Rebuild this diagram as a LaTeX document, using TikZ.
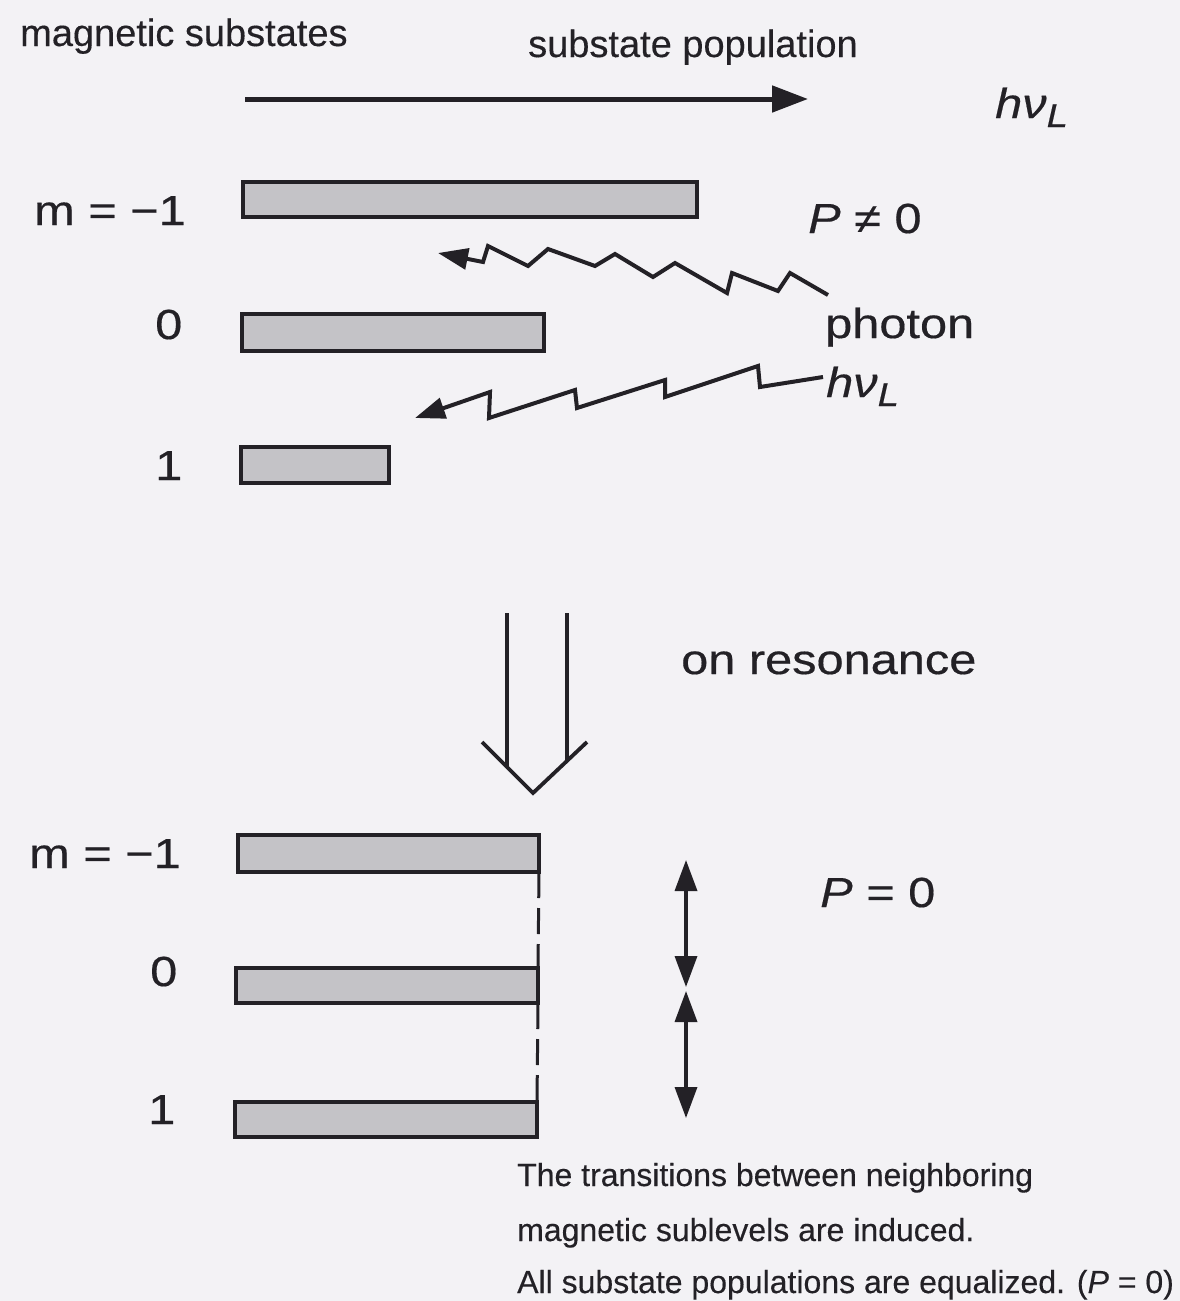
\documentclass[tikz,border=0pt]{standalone}
\usepackage{fontspec}
\setmainfont[FakeBold=0.3]{Liberation Sans}
\newfontfamily\widefont[FakeStretch=1.16,FakeBold=0.4]{Liberation Sans}
\usetikzlibrary{arrows.meta}
\definecolor{ink}{RGB}{35,33,38}
\definecolor{paper}{RGB}{243,242,245}
\definecolor{barfill}{RGB}{196,195,199}
\begin{document}
\begin{tikzpicture}[x=1pt,y=-1pt,
  bar/.style={draw=ink, line width=3.6pt, fill=barfill, inner sep=0pt, outer sep=0pt, anchor=north west},
  big/.style={font=\widefont\fontsize{42}{50}\selectfont, text=ink, inner sep=0pt, anchor=base west},
  small/.style={font=\fontsize{38}{46}\selectfont, text=ink, inner sep=0pt, anchor=base west},
  note/.style={font=\fontsize{32}{38}\selectfont, text=ink, inner sep=0pt, anchor=base west},
  ln/.style={draw=ink, line width=4pt, line join=miter},
  wavetip/.style={-{Triangle[length=30pt,width=21pt]}},
  dbl/.style={{Triangle[length=31pt,width=22pt]}-{Triangle[length=31pt,width=22pt]}}
]
\fill[paper] (0,0) rectangle (1180,1301);
\useasboundingbox (0,0) rectangle (1180,1301);

% top labels
\node[small] (ms) at (20,46) {magnetic substates};
\node[small] (sp) at (528,57) {substate population};
\coordinate (a1) at (245,99);
\coordinate (a2) at (808,99);
\draw[ln, line width=5pt, -{Triangle[length=36pt,width=26pt]}] (a1) -- (a2);
\node[big] (hv1) at (995,118) {\itshape hν\raisebox{-9pt}{\fontsize{33}{33}\selectfont L}};

% top levels
\node[big] (lm1) at (34,225) {m = −1};
\node[big] (l0) at (155,339) {0};
\node[big] (l1) at (155,480) {1};
\node[bar, minimum width=454pt, minimum height=35pt] (t1) at (243,182) {};
\node[bar, minimum width=302pt, minimum height=37pt] (t0) at (242,314) {};
\node[bar, minimum width=148pt, minimum height=36pt] (tp1) at (241,447) {};

\node[big] (pne) at (808,233) {\itshape P\upshape{} ≠ 0};
\node[big] (ph) at (825,338) {photon};
\node[big] (hv2) at (826,397) {\itshape hν\raisebox{-9pt}{\fontsize{33}{33}\selectfont L}};

% photon 1
\coordinate (w1s) at (828,295);
\coordinate (w1e) at (438,253);
\draw[ln, wavetip] (w1s) -- (790,273) -- (778,291) -- (732,273) -- (727,293) -- (675,263)
  -- (653,277) -- (615,254) -- (595,266) -- (548,249) -- (528,266) -- (488,246)
  -- (483,262) -- (w1e);
% photon 2
\coordinate (w2s) at (823,377);
\coordinate (w2e) at (415,418);
\draw[ln, wavetip] (w2s) -- (760,387) -- (758,366) -- (665,397) -- (665,380) -- (577,408)
  -- (575,390) -- (489,418) -- (490,392) -- (w2e);

% hollow arrow
\coordinate (hl1) at (507,613);
\coordinate (hl2) at (507,767);
\coordinate (hr1) at (567,613);
\coordinate (hr2) at (567,761);
\coordinate (cl) at (482,742);
\coordinate (cb) at (533,793);
\coordinate (cr) at (587,742);
\draw[ln, line width=3.2pt] (hl1) -- (hl2);
\draw[ln, line width=3.2pt] (hr1) -- (hr2);
\draw[ln, line width=3.8pt] (cl) -- (cb) -- (cr);

\node[big] (onres) at (681,674) {on resonance};

% bottom levels
\node[big] (blm1) at (29,868) {m = −1};
\node[big] (bl0) at (150,986) {0};
\node[big] (bl1) at (148,1124) {1};
\node[bar, minimum width=301pt, minimum height=37pt] (b1) at (238,835) {};
\node[bar, minimum width=302pt, minimum height=35pt] (b0) at (236,968) {};
\node[bar, minimum width=302pt, minimum height=35pt] (bp1) at (235,1102) {};
\draw[ln, line width=3pt, dash pattern=on 26pt off 10pt] (b1.south east) -- (b0.north east);
\draw[ln, line width=3pt, dash pattern=on 26pt off 10pt] (b0.south east) -- (bp1.north east);

\coordinate (d1) at (686,860);
\coordinate (d2) at (686,987);
\coordinate (d3) at (686,991);
\coordinate (d4) at (686,1118);
\draw[ln, line width=3.5pt, dbl] (d1) -- (d2);
\draw[ln, line width=3.5pt, dbl] (d3) -- (d4);

\node[big] (peq) at (820,907) {\itshape P\upshape{} = 0};

% caption
\node[note] (c1) at (517,1186) {The transitions between neighboring};
\node[note] (c2) at (517,1241) {magnetic sublevels are induced.};
\node[note] (c3) at (517,1293) {All substate populations are equalized. (\textit{P} = 0)};
\end{tikzpicture}
\end{document}
